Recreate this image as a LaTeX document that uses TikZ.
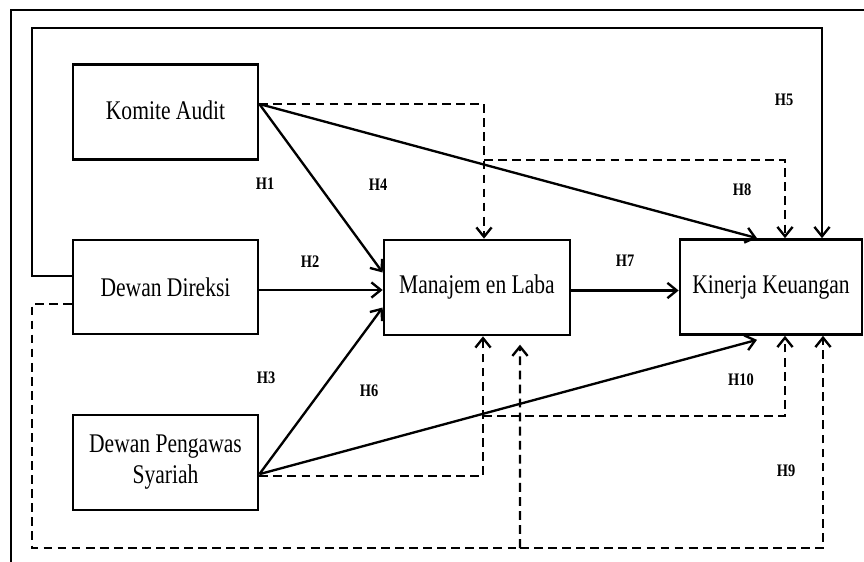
\documentclass[tikz,border=0pt]{standalone}
\usepackage{fontspec}
\setmainfont{Liberation Serif}
\newfontfamily\boxfont{Liberation Serif}[FakeStretch=0.8]
\newfontfamily\labfont{Liberation Serif}[FakeStretch=0.82]
\usetikzlibrary{arrows.meta, calc}
\tikzstyle{var} = [rectangle, draw=black, line width=2.3pt, minimum width=5.55cm, minimum height=2.85cm, align=center, font=\boxfont\fontsize{23}{26.5}\selectfont]
\tikzstyle{hyp} = [font=\labfont\bfseries\fontsize{15}{17}\selectfont, inner sep=0pt]
\tikzstyle{arrow} = [line width=2pt, -{Straight Barb[length=8pt, width=13pt]}]
\tikzstyle{dasharrow} = [arrow, dash pattern=on 7.5pt off 4.5pt]
\tikzstyle{dashline} = [line width=2pt, dash pattern=on 7.5pt off 4.5pt]

\begin{document}
\begin{tikzpicture}[x=0.03cm, y=-0.03cm]
    \useasboundingbox (0,0) rectangle (864,562);
    \draw [line width=1.3pt] (11,562) -- (11,10) -- (864,10);

    \node (ka)  [var] at (165.5,112) {\raisebox{0.12cm}{Komite Audit}};
    \node (dd)  [var, minimum height=2.82cm] at (165.5,287) {Dewan Direksi};
    \node (dps) [var] at (165.5,462.5) {Dewan Pengawas\\Syariah};
    \node (ml)  [var, minimum width=5.58cm] at (477,287.5) {Manajem en Laba};
    \node (kk)  [var, minimum width=5.46cm] at (771,287) {Kinerja Keuangan};

    % label hipotesis
    \node (h1) [hyp] at (265,184) {H1};
    \node (h2) [hyp] at (310,262) {H2};
    \node (h3) [hyp] at (266,378) {H3};
    \node (h4) [hyp] at (378,185) {H4};
    \node (h5) [hyp] at (784,100) {H5};
    \node (h6) [hyp] at (369,391) {H6};
    \node (h7) [hyp] at (625,261) {H7};
    \node (h8) [hyp] at (742,190) {H8};
    \node (h9) [hyp] at (786,471) {H9};
    \node (h10) [hyp] at (741,380) {H10};

    \coordinate (tl) at (32,28);
    \coordinate (bl) at (32,548);
    \coordinate (br8) at (484,160);
    \coordinate (br10) at (483,416);
    \coordinate (br9) at (520,548);

    % pengaruh langsung
    \draw [arrow] ([yshift=0.33cm]dd.west) -| (tl) -| ([xshift=1.53cm]kk.north);
    \draw [arrow] ([yshift=0.24cm]ka.east) -- ([yshift=0.45cm]ml.west);
    \draw [arrow] ([yshift=0.24cm]ka.east) -- ([xshift=-0.42cm]kk.north);
    \draw [arrow] ([yshift=-0.09cm]dd.east) -- ([yshift=-0.09cm]dd.east -| ml.west);
    \draw [arrow] ([yshift=-0.35cm]dps.east) -- ([yshift=-0.6cm]ml.west);
    \draw [arrow] ([yshift=-0.35cm]dps.east) -- ([xshift=-0.42cm, yshift=-0.12cm]kk.south);
    \draw [arrow] ([yshift=-0.09cm]ml.east) -- ([yshift=-0.09cm]ml.east -| kk.west);

    % pengaruh tidak langsung (mediasi)
    \draw [dasharrow] ([yshift=0.24cm]ka.east) -| ([xshift=0.21cm]ml.north);
    \draw [dasharrow] (br8) -| ([xshift=0.42cm]kk.north);
    \draw [dasharrow] ([yshift=-0.41cm]dps.east) -| ([xshift=0.18cm]ml.south);
    \draw [dasharrow] (br10) -| ([xshift=0.42cm]kk.south);
    \draw [dashline] ([yshift=-0.51cm]dd.west) -| (bl) -- (br9);
    \draw [dasharrow] (br9) -- ([xshift=1.29cm, yshift=-0.25cm]ml.south);
    \draw [dasharrow] (br9) -| ([xshift=1.56cm]kk.south);
\end{tikzpicture}
\end{document}
